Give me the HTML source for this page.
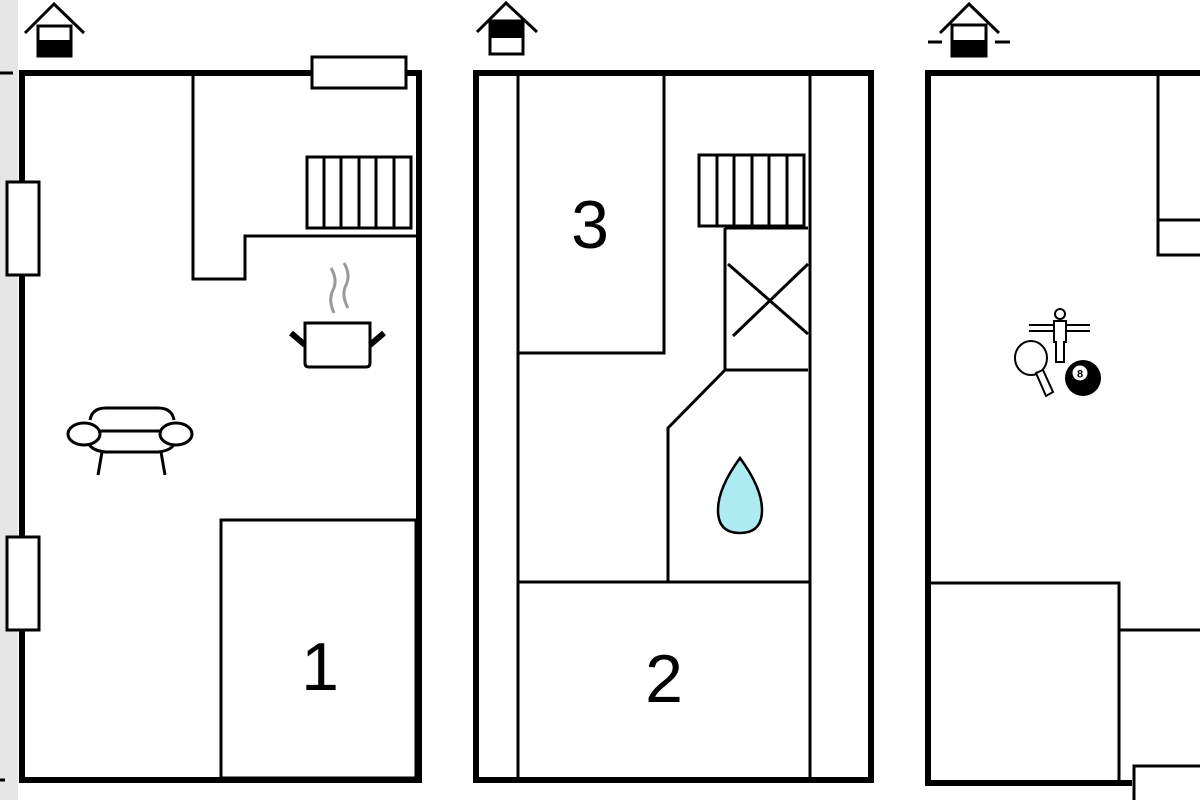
<!DOCTYPE html>
<html><head><meta charset="utf-8"><style>html,body{margin:0;padding:0;background:#fff}svg{display:block}</style></head>
<body>
<svg width="1200" height="800" viewBox="0 0 1200 800" xmlns="http://www.w3.org/2000/svg" font-family="Liberation Sans, sans-serif">
<rect width="1200" height="800" fill="#fff"/>
<!-- gray band left -->
<rect x="0" y="0" width="18" height="800" fill="#e6e6e6"/>
<line x1="0" y1="73" x2="13" y2="73" stroke="#000" stroke-width="3"/>
<line x1="0" y1="780" x2="5" y2="780" stroke="#000" stroke-width="3"/>

<g fill="none" stroke="#000">
<!-- PLAN 1 -->
<rect x="22" y="73" width="397" height="707" stroke-width="6"/>
<polyline points="193,75 193,279 245,279 245,236 416,236" stroke-width="3"/>
<rect x="221" y="520" width="195" height="258" stroke-width="3"/>
<!-- stairs -->
<rect x="307" y="157" width="104" height="71" stroke-width="3"/>
<line x1="324" y1="157" x2="324" y2="228" stroke-width="3"/>
<line x1="341" y1="157" x2="341" y2="228" stroke-width="3"/>
<line x1="359" y1="157" x2="359" y2="228" stroke-width="3"/>
<line x1="376" y1="157" x2="376" y2="228" stroke-width="3"/>
<line x1="394" y1="157" x2="394" y2="228" stroke-width="3"/>
<!-- pot -->
<path d="M305,323 H370 V363 Q370,367 366,367 H309 Q305,367 305,363 Z" stroke-width="3" fill="#fff"/>
<line x1="291" y1="333" x2="305" y2="345" stroke-width="6"/>
<line x1="384" y1="333" x2="370" y2="345" stroke-width="6"/>
<path d="M331,268 Q338,280 333,290 Q328,300 334,313" stroke="#999" stroke-width="3"/>
<path d="M344,263 Q351,275 346,285 Q341,295 348,308" stroke="#999" stroke-width="3"/>
<!-- sofa -->
<path d="M90,420 Q92,408 106,408 H158 Q172,408 174,420" stroke-width="3"/>
<path d="M88,435 Q85,450 106,452 H158 Q178,450 175,435" stroke-width="3"/>
<line x1="98" y1="431" x2="162" y2="431" stroke-width="3"/>
<ellipse cx="84" cy="434" rx="16" ry="11" stroke-width="3" fill="#fff"/>
<ellipse cx="176" cy="434" rx="16" ry="11" stroke-width="3" fill="#fff"/>
<line x1="102" y1="452" x2="98" y2="475" stroke-width="3"/>
<line x1="161" y1="452" x2="165" y2="475" stroke-width="3"/>
</g>
<!-- windows plan 1 -->
<rect x="7" y="182" width="32" height="93" fill="#fff" stroke="#000" stroke-width="3"/>
<rect x="7" y="537" width="32" height="93" fill="#fff" stroke="#000" stroke-width="3"/>
<rect x="312" y="57" width="94" height="31" fill="#fff" stroke="#000" stroke-width="3"/>
<text x="320" y="690" font-size="68" text-anchor="middle">1</text>

<!-- house icon 1 -->
<g stroke="#000" stroke-width="3" fill="none">
<polyline points="25,33 54,4 84,33"/>
<rect x="38" y="26" width="33" height="30" fill="#fff"/>
</g>
<rect x="38" y="40" width="33" height="17" fill="#000"/>

<!-- PLAN 2 -->
<g fill="none" stroke="#000">
<rect x="476" y="73" width="395" height="707" stroke-width="6"/>
<line x1="518" y1="75" x2="518" y2="778" stroke-width="3"/>
<line x1="810" y1="75" x2="810" y2="778" stroke-width="3"/>
<polyline points="518,353 664,353 664,75" stroke-width="3"/>
<line x1="518" y1="582" x2="810" y2="582" stroke-width="3"/>
<rect x="699" y="155" width="105" height="71" stroke-width="3"/>
<line x1="717" y1="155" x2="717" y2="226" stroke-width="3"/>
<line x1="734" y1="155" x2="734" y2="226" stroke-width="3"/>
<line x1="752" y1="155" x2="752" y2="226" stroke-width="3"/>
<line x1="769" y1="155" x2="769" y2="226" stroke-width="3"/>
<line x1="787" y1="155" x2="787" y2="226" stroke-width="3"/>
<polyline points="725,228 725,370 808,370" stroke-width="3"/>
<line x1="725" y1="228" x2="808" y2="228" stroke-width="3"/>
<line x1="728" y1="264" x2="808" y2="334" stroke-width="3"/>
<line x1="733" y1="336" x2="808" y2="264" stroke-width="3"/>
<polyline points="725,370 668,428 668,582" stroke-width="3"/>
<path d="M740,458 Q762,488 762,510 Q762,533 740,533 Q718,533 718,510 Q718,488 740,458 Z" fill="#aeeaf2" stroke-width="2.5"/>
</g>
<text x="590" y="248" font-size="68" text-anchor="middle">3</text>
<text x="664" y="702" font-size="68" text-anchor="middle">2</text>
<!-- house icon 2 -->
<g stroke="#000" stroke-width="3" fill="none">
<polyline points="477,32 506,3 537,32"/>
<rect x="490" y="21" width="33" height="33" fill="#fff"/>
</g>
<rect x="490" y="21" width="33" height="17" fill="#000"/>

<!-- PLAN 3 -->
<g fill="none" stroke="#000">
<path d="M1203,73 H928 V783 H1132" stroke-width="6"/>
<polyline points="1158,75 1158,255 1202,255" stroke-width="3"/>
<line x1="1158" y1="220" x2="1202" y2="220" stroke-width="3"/>
<polyline points="930,583 1119,583 1119,780" stroke-width="3"/>
<line x1="1120" y1="630" x2="1202" y2="630" stroke-width="3"/>
</g>
<rect x="1134" y="766" width="70" height="36" fill="#fff" stroke="#000" stroke-width="3"/>
<!-- house icon 3 -->
<g stroke="#000" stroke-width="3" fill="none">
<polyline points="940,33 969,4 999,33"/>
<rect x="952" y="25" width="34" height="31" fill="#fff"/>
<line x1="928" y1="42" x2="942" y2="42"/>
<line x1="995" y1="42" x2="1010" y2="42"/>
</g>
<rect x="952" y="40" width="34" height="17" fill="#000"/>
<!-- game icons -->
<g stroke="#000" stroke-width="2" fill="none">
<line x1="1029" y1="325" x2="1090" y2="325"/>
<line x1="1029" y1="331" x2="1090" y2="331"/>
<circle cx="1060" cy="314" r="5" fill="#fff"/>
<path d="M1054,321 H1066 L1066,342 L1064,342 L1064,362 H1056 L1056,342 L1054,342 Z" fill="#fff"/>
<ellipse cx="1031" cy="358" rx="16" ry="17" fill="#fff"/>
<path d="M1036,373 L1043,370 L1053,392 L1046,396 Z" fill="#fff"/>
</g>
<circle cx="1083" cy="378" r="18" fill="#000"/>
<circle cx="1080" cy="373" r="7.5" fill="#fff"/>
<text x="1080" y="377.5" font-size="11" font-weight="bold" text-anchor="middle">8</text>
</svg>
</body></html>
